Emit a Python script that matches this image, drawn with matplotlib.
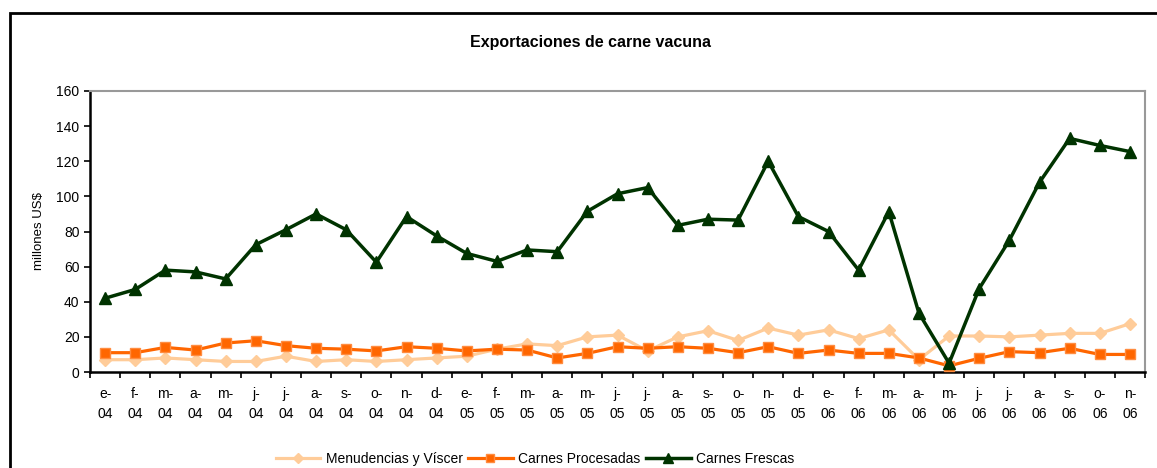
import matplotlib.pyplot as plt
from matplotlib.patches import Rectangle
from matplotlib.ticker import FixedLocator

plt.rcParams['font.family'] = ['Liberation Sans', 'DejaVu Sans']

# Meses (ene-04 .. nov-06)
months = ["e-", "f-", "m-", "a-", "m-", "j-", "j-", "a-", "s-", "o-", "n-", "d-"]
years = ["04"] * 12 + ["05"] * 12 + ["06"] * 11
labels = [f"{m}\n{y}" for m, y in zip(months * 3, years)]

menudencias = [7, 7, 8, 7, 6, 6, 9, 6, 7, 6, 7, 8,
               9, 13, 16, 15, 20, 21, 12, 20, 23.5, 18, 25, 21,
               24, 19, 24, 7, 20.5, 20.5, 20, 21, 22, 22, 27.5]
procesadas = [11, 11, 14, 12.5, 16.5, 17.8, 15, 13.5, 13, 12, 14.4, 13.5,
              12, 13, 12.5, 8, 10.6, 14.4, 13.5, 14.4, 13.5, 11, 14.4, 10.6,
              12.5, 10.6, 10.6, 8, 3.5, 7.8, 11.6, 11, 13.5, 10, 10]
frescas = [42, 47, 58, 57, 53, 72.5, 81, 90, 81, 62.5, 88.5, 77.5,
           67.5, 63, 69.5, 68.5, 91.5, 101.5, 105, 83.5, 87, 86.5, 120, 88.5,
           80, 58, 91.3, 33.5, 5, 47.5, 75, 108, 133, 129, 125.5]

x = list(range(len(labels)))

fig = plt.figure(figsize=(11.57, 4.68), dpi=100)
ax = fig.add_axes([90 / 1157, 1 - 372 / 468, 1055 / 1157, 281 / 468])

ax.plot(x, menudencias, color="#FFCC99", lw=2.3, marker="D", ms=6.5,
        label="Menudencias y Víscer", zorder=3)
ax.plot(x, procesadas, color="#FF6600", lw=2.3, marker="s", ms=7,
        mec="#FF8C40", label="Carnes Procesadas", zorder=4)
ax.plot(x, frescas, color="#003300", lw=2.5, marker="^", ms=9,
        label="Carnes Frescas", zorder=5)

ax.set_xlim(-0.5, len(x) - 0.5)
ax.set_ylim(0, 160)
ax.set_yticks(range(0, 161, 20))
ax.set_xticks(x)
ax.set_xticklabels(labels, fontsize=10, linespacing=1.55)
ax.xaxis.set_minor_locator(FixedLocator([i - 0.5 for i in range(len(x) + 1)]))
ax.tick_params(axis="x", which="major", length=0, pad=11)
ax.tick_params(axis="x", which="minor", length=4, width=1.2, direction="out")
ax.tick_params(axis="y", length=4, width=1.2, direction="out", labelsize=10)

for s in ["left", "bottom"]:
    ax.spines[s].set_linewidth(1.8)
    ax.spines[s].set_color("black")
for s in ["top", "right"]:
    ax.spines[s].set_linewidth(1.5)
    ax.spines[s].set_color("#999999")

ax.set_ylabel("millones US$", fontsize=9.5, labelpad=8)
fig.text(590 / 1157, 1 - 42 / 468, "Exportaciones de carne vacuna",
         ha="center", va="center", fontsize=11.5, fontweight="bold")

fig.legend(loc="center", bbox_to_anchor=(535 / 1157, 1 - 459 / 468), ncol=3,
           frameon=False, fontsize=10, handlelength=3.2, columnspacing=0.4,
           handletextpad=0.4, markerscale=0.8)

# marco exterior
fig.patches.append(Rectangle((10 / 1157, -0.2), 1.2, 1.2 - 13 / 468, fill=False,
                             lw=2, ec="black", transform=fig.transFigure,
                             figure=fig))

fig.savefig("out.png", dpi=100)
